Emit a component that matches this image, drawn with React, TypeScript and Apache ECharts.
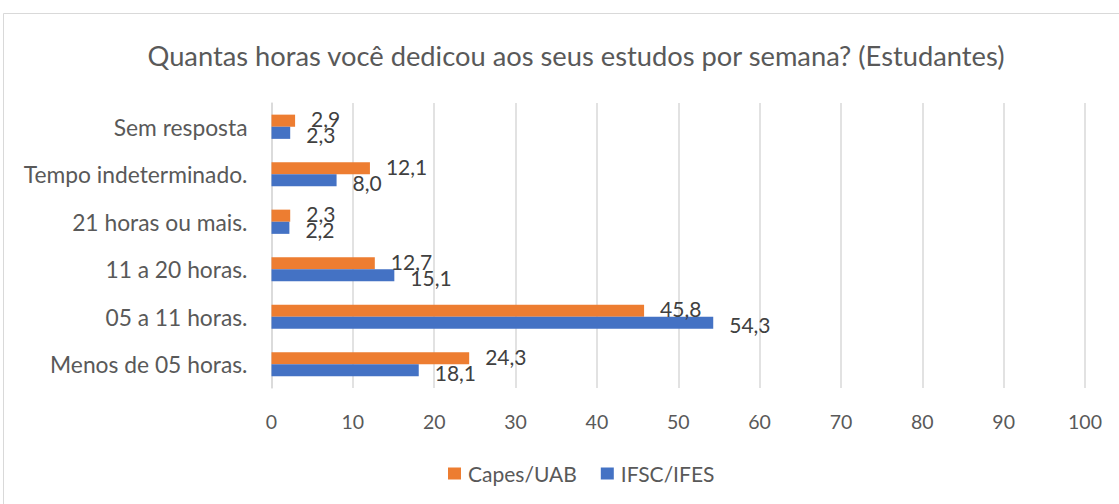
import React, { useEffect, useRef } from "react";
import * as echarts from "echarts";

const categories = [
  "Sem resposta",
  "Tempo indeterminado.",
  "21 horas ou mais.",
  "11 a 20 horas.",
  "05 a 11 horas.",
  "Menos de 05 horas.",
];
const capesUab = [2.9, 12.1, 2.3, 12.7, 45.8, 24.3];
const ifscIfes = [2.3, 8.0, 2.2, 15.1, 54.3, 18.1];
const seriesNames = ["Capes/UAB", "IFSC/IFES"];
const xTicks = { min: 0, max: 100, interval: 10 };

const FONT = "Lato, 'Open Sans', sans-serif";
const TEXT = "#595959";

export default function App() {
  const ref = useRef<HTMLDivElement>(null);
  useEffect(() => {
    if (!ref.current) return;
    const chart = echarts.init(ref.current, undefined, { renderer: "svg" });
    const fmt = (p: any) => Number(p.value).toFixed(1).replace(".", ",");
    chart.setOption({
      animation: false,
      textStyle: { fontFamily: FONT, color: TEXT },
      title: {
        text: "Quantas horas você dedicou aos seus estudos por semana? (Estudantes)",
        left: 571,
        top: 37,
        textAlign: "center",
        textStyle: { fontFamily: FONT, fontSize: 27.3, fontWeight: "normal", color: TEXT },
      },
      graphic: [
        {
          type: "rect",
          shape: { x: 3.5, y: 13.5, width: 1300, height: 700 },
          style: { fill: "none", stroke: "#D9D9D9", lineWidth: 1 },
          silent: true,
          z: -1,
        },
      ],
      legend: {
        data: seriesNames,
        left: 443,
        top: 458,
        itemWidth: 13,
        itemHeight: 12,
        itemGap: 24,
        icon: "rect",
        textStyle: { fontFamily: FONT, fontSize: 21, color: TEXT, padding: [0, 0, 0, 2] },
      },
      grid: { left: 271.5, right: 34, top: 103, bottom: 116, containLabel: false },
      xAxis: {
        type: "value",
        min: xTicks.min,
        max: xTicks.max,
        interval: xTicks.interval,
        axisLine: { show: false },
        axisTick: { show: false },
        splitLine: { show: true, lineStyle: { color: "#D9D9D9", width: 1.5 } },
        axisLabel: { fontFamily: FONT, fontSize: 19.5, color: TEXT, margin: 23 },
      },
      yAxis: {
        type: "category",
        data: categories,
        inverse: true,
        axisLine: { show: true, lineStyle: { color: "#D9D9D9", width: 1.5 } },
        axisTick: { show: false },
        axisLabel: { fontFamily: FONT, fontSize: 22.8, color: TEXT, margin: 24 },
      },
      series: [
        {
          name: seriesNames[0],
          type: "bar",
          data: capesUab,
          barGap: "0%",
          barCategoryGap: "49%",
          itemStyle: { color: "#ED7D31" },
          label: {
            show: true,
            position: "right",
            distance: 16,
            offset: [0, -2],
            formatter: fmt,
            fontFamily: FONT,
            fontSize: 21,
            color: "#404040",
          },
        },
        {
          name: seriesNames[1],
          type: "bar",
          data: ifscIfes,
          barGap: "0%",
          barCategoryGap: "49%",
          itemStyle: { color: "#4472C4" },
          label: {
            show: true,
            position: "right",
            distance: 16,
            offset: [0, 2],
            formatter: fmt,
            fontFamily: FONT,
            fontSize: 21,
            color: "#404040",
          },
        },
      ],
    });
    return () => chart.dispose();
  }, []);
  return (
    <div
      ref={ref}
      style={{ position: "fixed", left: 0, top: 0, width: 1119, height: 504, background: "#fff" }}
    />
  );
}
